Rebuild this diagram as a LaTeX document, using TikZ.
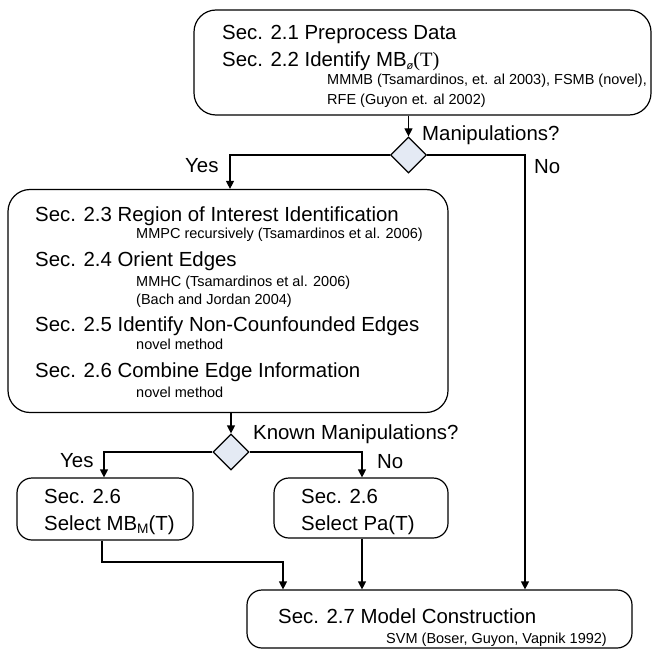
\documentclass[tikz,border=0pt]{standalone}
\usepackage{fontspec}
\setmainfont{Liberation Sans}
\newfontfamily\seriffont{Liberation Serif}
\usetikzlibrary{shapes.geometric,arrows.meta}
\definecolor{dfill}{HTML}{E4EAF4}
\tikzset{
  box/.style={draw, line width=1.2pt, rounded corners=#1, inner sep=0pt},
  box/.default=22pt,
  big/.style={anchor=base west, inner sep=0pt, font=\fontsize{20.4}{24}\selectfont},
  small/.style={anchor=base west, inner sep=0pt, font=\fontsize{14.5}{17}\selectfont},
  decision/.style={draw, diamond, fill=dfill, line width=1.2pt, minimum width=36pt, minimum height=36pt, inner sep=0pt, aspect=1},
  conn/.style={line width=1.2pt, -{Triangle[length=8pt,width=8pt]}},
}
\begin{document}
\begin{tikzpicture}[x=1pt,y=-1pt]
\useasboundingbox[fill=white] (0,0) rectangle (653,650);

% boxes
\node[box, minimum width=457pt, minimum height=105pt] (b1) at (422.5,62.5) {};
\node[box, minimum width=440pt, minimum height=223pt] (b2) at (228,301) {};
\node[box=15pt, minimum width=176pt, minimum height=62pt] (b3) at (105,509) {};
\node[box=15pt, minimum width=174pt, minimum height=60pt] (b4) at (361,508) {};
\node[box=15pt, minimum width=385pt, minimum height=58pt] (b5) at (439.5,619) {};

% decisions
\node[decision] (d1) at (408.5,155) {};
\node[decision] (d2) at (231,452) {};

% texts box 1
\node[big] (t21) at (222,40) {Sec. 2.1 Preprocess Data};
\node[big] (t22) at (222,67) {Sec. 2.2 Identify MB\raisebox{-3pt}{\fontsize{11}{12}\selectfont\itshape ø}{\seriffont(T)}};
\node[small] (t22a) at (327,85) {MMMB (Tsamardinos, et. al 2003), FSMB (novel),};
\node[small] (t22b) at (327,105) {RFE (Guyon et. al 2002)};

% texts box 2
\node[big] (t23) at (35,221) {Sec. 2.3 Region of Interest Identification};
\node[small] (t23a) at (136,238) {MMPC recursively (Tsamardinos et al. 2006)};
\node[big] (t24) at (35,266) {Sec. 2.4 Orient Edges};
\node[small] (t24a) at (136,286) {MMHC (Tsamardinos et al. 2006)};
\node[small] (t24b) at (136,304) {(Bach and Jordan 2004)};
\node[big] (t25) at (35,331) {Sec. 2.5 Identify Non-Counfounded Edges};
\node[small] (t25a) at (136,349) {novel method};
\node[big] (t26) at (35,377) {Sec. 2.6 Combine Edge Information};
\node[small] (t26a) at (136,397) {novel method};

% texts box 3, 4
\node[big] (t3a) at (44,503) {Sec. 2.6};
\node[big] (t3b) at (44,530) {Select MB\raisebox{-3.5pt}{\fontsize{13.7}{16}\selectfont M}(T)};
\node[big] (t4a) at (301,503) {Sec. 2.6};
\node[big] (t4b) at (301,530) {Select Pa(T)};

% texts box 5
\node[big] (t27) at (278,623) {Sec. 2.7 Model Construction};
\node[small, anchor=base east] (t27a) at (607,643) {SVM (Boser, Guyon, Vapnik 1992)};

% decision labels
\node[big] (q1) at (422,141) {Manipulations?};
\node[big] (y1) at (185,172) {Yes};
\node[big] (n1) at (534,173) {No};
\node[big] (q2) at (253,439) {Known Manipulations?};
\node[big] (y2) at (60,467) {Yes};
\node[big] (n2) at (377,468) {No};

% x positions of vertical legs
\coordinate (xa) at (230,0);
\coordinate (xb) at (525,0);
\coordinate (xc) at (104,0);
\coordinate (xd) at (362,0);
\coordinate (xe) at (102,0);
\coordinate (xf) at (283,0);
\coordinate (yg) at (0,562);

% connectors
\draw[conn] (b1.south -| d1) -- (d1.north);
\draw[conn] (d1.west) -| (xa |- b2.north);
\draw[conn] (d1.east) -| (xb |- b5.north);
\draw[conn] (b2.south -| d2) -- (d2.north);
\draw[conn] (d2.west) -| (xc |- b3.north);
\draw[conn] (d2.east) -| (xd |- b4.north);
\draw[conn] (xe |- b3.south) -- (xe |- yg) -| (xf |- b5.north);
\draw[conn] (xd |- b4.south) -- (xd |- b5.north);
\end{tikzpicture}
\end{document}
